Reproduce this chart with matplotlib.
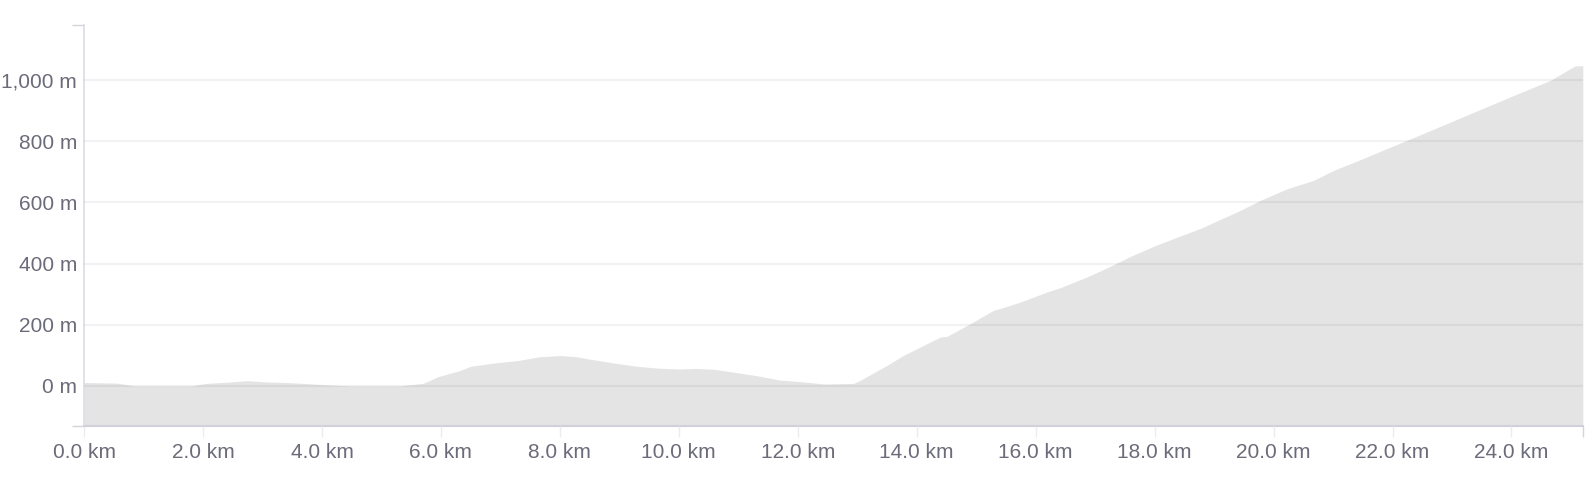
import matplotlib.pyplot as plt
from matplotlib.ticker import FuncFormatter

# elevation profile, distance in km, elevation in m
dist_km = [0, 0.55, 0.85, 1.8, 2.05, 2.4, 2.75, 3.05, 3.4, 3.7, 4.1, 4.5, 5.3, 5.7,
           5.95, 6.3, 6.5, 6.9, 7.3, 7.65, 8.0, 8.25, 8.55, 8.9, 9.3, 9.65, 10.0,
           10.3, 10.6, 10.95, 11.35, 11.7, 12.1, 12.45, 12.94, 13.05, 13.5, 13.78,
           14.06, 14.4, 14.51, 14.85, 15.29, 15.52, 15.74, 16.19, 16.41, 16.86,
           17.2, 17.6, 18.0, 18.4, 18.77, 19.44, 19.78, 20.23, 20.67, 21.01,
           21.46, 22.2, 22.5, 23.0, 23.5, 24.0, 24.5, 24.66, 25.07, 25.2]
elev_m = [11, 9, 0, 0, 8, 12, 17, 13, 11, 8, 3, 0, 0, 8,
          30, 49, 64, 75, 83, 95, 99, 96, 86, 75, 64, 58, 55,
          57, 54, 44, 32, 19, 13, 6, 8, 18, 67, 100,
          127, 160, 162, 198, 247, 260, 274, 307, 321, 356,
          386, 424, 458, 488, 515, 574, 607, 645, 672, 705,
          740, 800, 824, 865, 906, 947, 987, 1000, 1047, 1047]

x_ticks = [0, 2, 4, 6, 8, 10, 12, 14, 16, 18, 20, 22, 24]
y_ticks = [0, 200, 400, 600, 800, 1000]
x_range = (0, 25.2)
y_range = (-131, 1180)

plt.rcParams['font.family'] = ['Liberation Sans', 'DejaVu Sans']

fig = plt.figure(figsize=(15.86, 4.84), dpi=100)
ax = fig.add_axes([0.053, 0.12, 0.945, 0.828])

ax.set_xlim(*x_range)
ax.set_ylim(*y_range)

ax.fill_between(dist_km, elev_m, y_range[0], color='#e4e4e4', linewidth=0, zorder=1)

ax.set_axisbelow(False)
ax.yaxis.grid(True, color='black', alpha=0.05, linewidth=1.5)
ax.xaxis.grid(False)

ax.set_xticks(x_ticks)
ax.set_yticks(y_ticks)
ax.xaxis.set_major_formatter(FuncFormatter(lambda v, p: f'{v:.1f} km'))
ax.yaxis.set_major_formatter(FuncFormatter(lambda v, p: f'{v:,.0f} m'))

# end ticks of the axis lines
ax.set_yticks(list(y_range), minor=True)
ax.set_xticks([x_range[1]], minor=True)

ax.tick_params(axis='x', which='major', length=8, width=1, color='#ececf0',
               labelcolor='#6b6b7a', labelsize=15, pad=4)
ax.tick_params(axis='x', which='minor', length=8, width=1, color='#d4d4dc')
ax.tick_params(axis='y', which='major', length=0, labelcolor='#6b6b7a',
               labelsize=15, pad=5)
ax.tick_params(axis='y', which='minor', length=9, width=1, color='#d4d4dc')

for s in ['top', 'right']:
    ax.spines[s].set_visible(False)
ax.spines['left'].set_color('#dcdce4')
ax.spines['bottom'].set_color('#d0d0da')
ax.spines['left'].set_linewidth(1.2)
ax.spines['bottom'].set_linewidth(1.5)

fig.savefig('out.png', dpi=100)
